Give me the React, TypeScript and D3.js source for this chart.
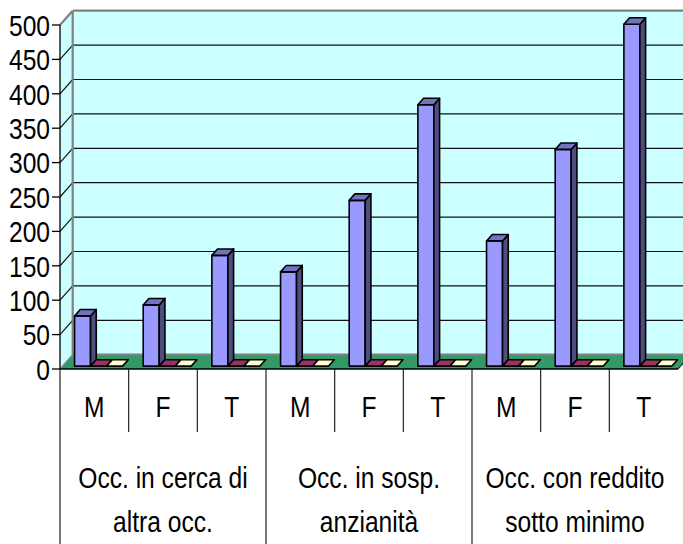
import React from "react";
import * as d3 from "d3";

const groups = ["Occ. in cerca di|altra occ.", "Occ. in sosp.|anzianità", "Occ. con reddito|sotto minimo"];
const subLabels = ["M", "F", "T"];
// values per sub-category (group-major)
const blueValues = [73, 89, 161, 137, 241, 380, 182, 315, 497];
const maroonValues = [0, 0, 0, 0, 0, 0, 0, 0, 0];
const creamValues = [0, 0, 0, 0, 0, 0, 0, 0, 0];
const yTicks = [0, 50, 100, 150, 200, 250, 300, 350, 400, 450, 500];

const W = 683, H = 544;
const FONT = "'Liberation Sans', Arial, sans-serif";
const SX = 0.82;

function NText({ x, y, anchor, children, dy }: { x: number; y: number; anchor: string; children: any; dy?: string }) {
  return (
    <g transform={`translate(${x},${y}) scale(${SX},1)`}>
      <text x={0} y={0} dy={dy} textAnchor={anchor} fontSize={30}>
        {children}
      </text>
    </g>
  );
}

export default function App() {
  const x0 = 60, x1 = 678;
  const yBase = 369, yTop = 25;
  const DX = 12.7, DY = -14.3;
  const y = d3.scaleLinear().domain([0, 500]).range([yBase, yTop]);
  const cats = d3.range(9);
  const xb = d3.scaleBand<number>().domain(cats).range([x0, x1]).padding(0);
  const bw = xb.bandwidth();
  const series = [blueValues, maroonValues, creamValues];
  const colors = [
    { front: "#9999FF", side: "#4D4D80", top: "#7373BF" },
    { front: "#993366", side: "#4D1A33", top: "#732650" },
    { front: "#FFFFCC", side: "#808066", top: "#CCCCA3" },
  ];
  const f0 = 0.2, fd = 0.45;
  const xs = d3.scaleBand<number>().domain([0, 1, 2]).range([0, 48]).padding(0);

  const pts = (arr: number[][]) => arr.map((p) => p.join(",")).join(" ");

  const bars: any[] = [];
  cats.forEach((c) => {
    series.forEach((vals, s) => {
      const v = vals[c];
      const bx = (xb(c) as number) + f0 * DX + 12 + (xs(s) as number);
      const w = xs.bandwidth();
      const by0 = yBase + f0 * DY;
      const by1 = y(v) + f0 * DY;
      const ddx = fd * DX, ddy = fd * DY;
      const col = colors[s];
      bars.push(
        <g key={`b${c}-${s}`} stroke="#000" strokeWidth={1.6} strokeLinejoin="round">
          {v > 0 && <rect x={bx} y={by1} width={w} height={by0 - by1} fill={col.front} />}
          {v > 0 && (
            <polygon
              points={pts([[bx + w, by1], [bx + w + ddx, by1 + ddy], [bx + w + ddx, by0 + ddy], [bx + w, by0]])}
              fill={col.side}
            />
          )}
          <polygon
            points={pts([[bx, by1], [bx + w, by1], [bx + w + ddx, by1 + ddy], [bx + ddx, by1 + ddy]])}
            fill={v > 0 ? col.top : col.front}
          />
        </g>
      );
    });
  });

  return (
    <svg width={W} height={H} style={{ position: "absolute", left: 0, top: 0, background: "#fff" }} fontFamily={FONT}>
      {/* back wall */}
      <rect x={x0 + DX} y={yTop + DY} width={x1 - x0 + 20} height={yBase - yTop} fill="#CCFFFF" />
      {/* side wall */}
      <polygon points={pts([[x0, yBase], [x0, yTop], [x0 + DX, yTop + DY], [x0 + DX, yBase + DY]])} fill="#CCFFFF" />
      {/* gridlines */}
      {yTicks.slice(1, -1).map((t) => (
        <g key={`g${t}`} stroke="#111" strokeWidth={1.2}>
          <line x1={x0} y1={y(t)} x2={x0 + DX} y2={y(t) + DY} />
          <line x1={x0 + DX} y1={y(t) + DY} x2={W + 10} y2={y(t) + DY} />
        </g>
      ))}
      {/* wall borders */}
      <g stroke="#808080" strokeWidth={2.2} fill="none">
        <line x1={x0 + DX} y1={yTop + DY} x2={W + 10} y2={yTop + DY} />
        <line x1={x0} y1={yTop} x2={x0 + DX} y2={yTop + DY} />
        <line x1={x0 + DX} y1={yTop + DY} x2={x0 + DX} y2={yBase + DY} />
      </g>
      {/* floor */}
      <polygon points={pts([[x0, yBase], [x1, yBase], [x1 + DX, yBase + DY], [x0 + DX, yBase + DY]])} fill="#339966" />
      <line x1={x0 + DX} y1={yBase + DY} x2={W + 10} y2={yBase + DY} stroke="#808080" strokeWidth={2.2} />
      <line x1={x1} y1={yBase} x2={x1 + DX} y2={yBase + DY} stroke="#333" strokeWidth={1.2} />
      <line x1={x0} y1={yBase} x2={x0 + DX} y2={yBase + DY} stroke="#808080" strokeWidth={1.2} />
      {bars}
      {/* y axis */}
      <line x1={x0} y1={yTop} x2={x0} y2={yBase} stroke="#000" strokeWidth={1.3} />
      {yTicks.map((t) => (
        <g key={`t${t}`}>
          <line x1={x0 - 8} y1={y(t)} x2={x0} y2={y(t)} stroke="#000" strokeWidth={1.3} />
          <NText x={x0 - 10} y={y(t)} dy="0.36em" anchor="end">
            {t}
          </NText>
        </g>
      ))}
      {/* category axis table */}
      <line x1={x0} y1={yBase} x2={x1} y2={yBase} stroke="#000" strokeWidth={1.3} />
      {cats.map((c) => {
        const xl = xb(c) as number;
        const isGroupStart = c % 3 === 0;
        return (
          <g key={`c${c}`}>
            <line x1={xl} y1={yBase} x2={xl} y2={isGroupStart ? H : 432} stroke="#222" strokeWidth={1.2} />
            <NText x={xl + bw / 2} y={417} anchor="middle">
              {subLabels[c % 3]}
            </NText>
          </g>
        );
      })}
      {groups.map((g, i) => {
        const cx = ((xb(i * 3) as number) + (xb(i * 3 + 2) as number) + bw) / 2;
        const [l1, l2] = g.split("|");
        return (
          <g key={`grp${i}`}>
            <NText x={cx} y={488} anchor="middle">{l1}</NText>
            <NText x={cx} y={532} anchor="middle">{l2}</NText>
          </g>
        );
      })}
    </svg>
  );
}
